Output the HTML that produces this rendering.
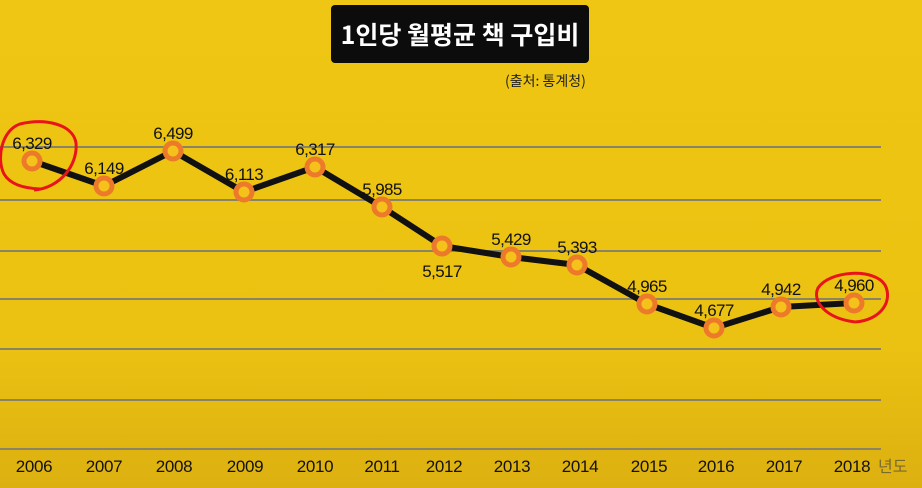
<!DOCTYPE html>
<html><head><meta charset="utf-8"><style>
html,body{margin:0;padding:0}
body{width:922px;height:488px;overflow:hidden;background:linear-gradient(#f0c614,#ecc212 70%,#dcb010);font-family:"Liberation Sans","Noto Sans CJK KR",sans-serif;position:relative}
.title{position:absolute;left:331px;top:5px;width:258px;height:58px;background:#0c0c0c;border-radius:4px;color:#fff;font-size:25px;font-weight:bold;text-align:center;line-height:58px;font-family:"Noto Sans CJK KR",sans-serif}
.src{position:absolute;left:505px;top:71px;font-size:14px;color:#222;font-family:"Noto Sans CJK KR",sans-serif}
svg{position:absolute;left:0;top:0}
</style></head><body>
<div class="title">1인당 월평균 책 구입비</div>
<div class="src">(출처: 통계청)</div>
<svg width="922" height="488" font-family="Liberation Sans, sans-serif">
<g stroke="#8a8466" stroke-width="2">
<line x1="0" y1="147" x2="881" y2="147"/><line x1="0" y1="200" x2="881" y2="200"/>
<line x1="0" y1="251" x2="881" y2="251"/><line x1="0" y1="299" x2="881" y2="299"/>
<line x1="0" y1="349" x2="881" y2="349"/><line x1="0" y1="400" x2="881" y2="400"/>
<line x1="0" y1="449" x2="881" y2="449"/>
</g>
<polyline fill="none" stroke="#111" stroke-width="6" stroke-linejoin="round" points="32,161 104,186 173,151 244,192 315,167 382,207 442,246 511,257 577,265 647,304 714,328 781,307 854,303"/>
<g fill="#f4c21a" stroke="#ec7a2a" stroke-width="5">
<circle cx="32" cy="161" r="8"/><circle cx="104" cy="186" r="8"/><circle cx="173" cy="151" r="8"/><circle cx="244" cy="192" r="8"/><circle cx="315" cy="167" r="8"/><circle cx="382" cy="207" r="8"/><circle cx="442" cy="246" r="8"/><circle cx="511" cy="257" r="8"/><circle cx="577" cy="265" r="8"/><circle cx="647" cy="304" r="8"/><circle cx="714" cy="328" r="8"/><circle cx="781" cy="307" r="8"/><circle cx="854" cy="303" r="8"/>
</g>
<g font-size="17" fill="#111" text-anchor="middle" letter-spacing="-0.6">
<text x="32" y="149">6,329</text><text x="104" y="174">6,149</text><text x="173" y="139">6,499</text><text x="244" y="180">6,113</text><text x="315" y="155">6,317</text><text x="382" y="195">5,985</text><text x="442" y="277">5,517</text><text x="511" y="245">5,429</text><text x="577" y="253">5,393</text><text x="647" y="292">4,965</text><text x="714" y="316">4,677</text><text x="781" y="295">4,942</text><text x="854" y="291">4,960</text>
</g>
<g font-size="17" fill="#111" text-anchor="middle" letter-spacing="-0.3">
<text x="34" y="472">2006</text><text x="104" y="472">2007</text><text x="174" y="472">2008</text><text x="245" y="472">2009</text><text x="315" y="472">2010</text><text x="382" y="472">2011</text><text x="444" y="472">2012</text><text x="512" y="472">2013</text><text x="580" y="472">2014</text><text x="649" y="472">2015</text><text x="716" y="472">2016</text><text x="784" y="472">2017</text><text x="852" y="472">2018</text>
</g>
<text x="878" y="472" font-size="16" fill="#7a6a30" font-family="Noto Sans CJK KR, sans-serif">년도</text>
<g fill="none" stroke="#e8141a" stroke-width="3">
<path d="M34,190 C60,188 78,165 76,143 C73,124 45,118 20,124 C2,130 -4,158 4,174 C10,184 22,188 40,189"/>
<path d="M855,322 C882,320 893,300 885,285 C875,268 830,270 818,288 C812,300 824,318 855,322"/>
</g>
</svg>
</body></html>
